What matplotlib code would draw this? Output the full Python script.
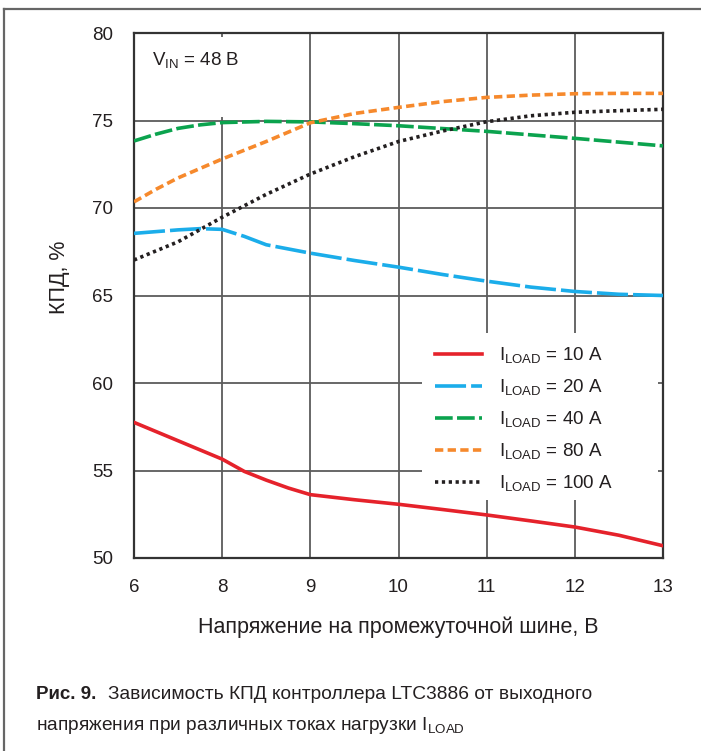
import numpy as np
import matplotlib
matplotlib.use("Agg")
import matplotlib.pyplot as plt
from matplotlib.lines import Line2D
from matplotlib.patches import Rectangle

plt.rcParams['font.family'] = ['Liberation Sans', 'DejaVu Sans']
plt.rcParams['mathtext.fontset'] = 'custom'
plt.rcParams['mathtext.rm'] = 'Liberation Sans'

# --- data (efficiency, %) ---
x_ticks = [6, 8, 9, 10, 11, 12, 13]
y_ticks = [50, 55, 60, 65, 70, 75, 80]

v_10a = [6, 7, 8, 8.25, 8.5, 8.75, 9, 9.5, 10, 10.5, 11, 11.5, 12, 12.5, 13]
eff_10a = [57.75, 56.7, 55.65, 54.95, 54.45, 54.0, 53.62, 53.33, 53.07, 52.77,
           52.46, 52.12, 51.77, 51.3, 50.7]

v_20a = [6, 7, 7.5, 8, 8.25, 8.5, 9, 9.5, 10, 10.5, 11, 11.5, 12, 12.5, 13]
eff_20a = [68.55, 68.75, 68.82, 68.78, 68.38, 67.9, 67.42, 67.0, 66.62, 66.2,
           65.82, 65.48, 65.23, 65.07, 65.0]

v_40a = [6, 6.5, 7, 7.5, 8, 8.5, 9, 9.5, 10, 11, 12, 13]
eff_40a = [73.83, 74.22, 74.55, 74.75, 74.88, 74.95, 74.92, 74.82, 74.7,
           74.38, 73.98, 73.55]

v_80a = [6, 6.5, 7, 8, 8.5, 9, 9.5, 10, 10.5, 11, 11.5, 12, 12.5, 13]
eff_80a = [70.35, 71.07, 71.72, 72.8, 73.8, 74.87, 75.4, 75.75, 76.08, 76.32,
           76.45, 76.53, 76.55, 76.55]

v_100a = [6, 7, 8, 8.5, 9, 9.5, 10, 10.5, 11, 11.5, 12, 12.5, 13]
eff_100a = [67.03, 68.07, 69.47, 70.78, 71.94, 72.93, 73.8, 74.4, 74.93,
            75.27, 75.47, 75.56, 75.64]

series = [
    (v_10a, eff_10a, '10', '#e5222b', None),
    (v_20a, eff_20a, '20', '#1badea', (8.6, 1.4)),
    (v_40a, eff_40a, '40', '#0ba34e', (4.9, 1.2)),
    (v_80a, eff_80a, '80', '#f6892c', (2.3, 1.2)),
    (v_100a, eff_100a, '100', '#231f20', (0.9, 1.0)),
]

# x axis is evenly spaced between the labelled voltages
pos = np.arange(len(x_ticks))


def fwd(v):
    return np.interp(v, x_ticks, pos)


def inv(p):
    return np.interp(p, pos, x_ticks)


fig = plt.figure(figsize=(7.01, 7.51), dpi=100)
ax = fig.add_axes([134 / 701, 1 - 558 / 751, 529 / 701, 525 / 751])
ax.set_xscale('function', functions=(fwd, inv))
ax.set_xlim(6, 13)
ax.set_ylim(50, 80)
ax.set_xticks(x_ticks)
ax.set_xticklabels([str(t) for t in x_ticks])
ax.set_yticks(y_ticks)
ax.tick_params(length=0, labelsize=13.5, colors='#231f20')
ax.tick_params(axis='y', pad=15)
ax.tick_params(axis='x', pad=15)
ax.minorticks_off()
ax.grid(True, color='#5c5c5c', lw=1.3)
ax.set_axisbelow(True)
for s in ax.spines.values():
    s.set_color('#333333')
    s.set_linewidth(1.6)

for v, e, lab, col, dash in series:
    line, = ax.plot(v, e, color=col, lw=2.6, zorder=3,
                    label=r'I$_\mathregular{LOAD}$ = ' + lab + ' A')
    if dash is not None:
        line.set_dashes(dash)

# white masks behind the labels (they break the grid in the original)
ax.add_patch(Rectangle((0.02, 0.84), 0.21, 0.152, transform=ax.transAxes,
                       facecolor='white', edgecolor='none', zorder=1))
ax.add_patch(Rectangle((0.544, 0.11), 0.447, 0.319, transform=ax.transAxes,
                       facecolor='white', edgecolor='none', zorder=1))

ax.text((152 - 134) / 529, 1 - (66 - 33) / 525,
        r'V$_\mathregular{IN}$ = 48 В', transform=ax.transAxes,
        fontsize=13.5, color='#231f20', va='baseline', ha='left', zorder=4)

leg = ax.legend(loc='upper left', bbox_to_anchor=((435 - 134) / 529, (558 - 346) / 525),
                frameon=False, fontsize=13.5, handlelength=2.5, handletextpad=0.9,
                labelspacing=0.62, borderpad=0, borderaxespad=0)
for t in leg.get_texts():
    t.set_color('#231f20')

ax.set_xlabel('Напряжение на промежуточной шине, В', fontsize=15.5,
              color='#231f20', labelpad=15)
fig.text(60 / 701, 1 - 277 / 751, 'КПД, %', rotation=90, fontsize=15.5,
         color='#231f20', ha='center', va='center')

# outer frame (top and left edges)
fig.add_artist(Line2D([4 / 701, 1], [1 - 9 / 751] * 2, color='#666666', lw=1.6,
                      transform=fig.transFigure))
fig.add_artist(Line2D([4 / 701] * 2, [0, 1 - 9 / 751], color='#666666', lw=1.6,
                      transform=fig.transFigure))

fig.text(36 / 701, 1 - 699 / 751, 'Рис. 9.', fontsize=13.5, fontweight='bold',
         color='#231f20', va='baseline')
fig.text(108 / 701, 1 - 699 / 751,
         'Зависимость КПД контроллера LTC3886 от выходного', fontsize=13.8,
         color='#231f20', va='baseline')
fig.text(36 / 701, 1 - 730 / 751,
         r'напряжения при различных токах нагрузки I$_\mathregular{LOAD}$',
         fontsize=13.8, color='#231f20', va='baseline')

fig.savefig('out.png', dpi=100)
